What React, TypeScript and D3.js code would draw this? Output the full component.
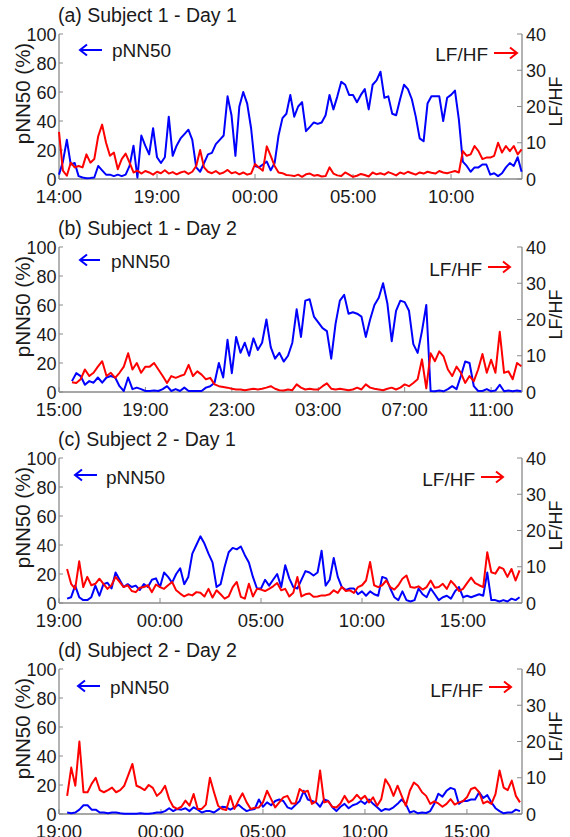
import React from 'react'
import * as d3 from 'd3'

// samples are every 12 minutes (0.2 h), hours counted from the first tick
const STEP = 0.2

const pnnTicks = [0, 20, 40, 60, 80, 100]
const lfTicks = [0, 10, 20, 30, 40]

const aTickLabels = ['14:00', '19:00', '00:00', '05:00', '10:00']
const aTickHours = [0, 5, 10, 15, 20]
const bTickLabels = ['15:00', '19:00', '23:00', '03:00', '07:00', '11:00']
const bTickHours = [0, 4, 8, 12, 16, 20]
const cTickLabels = ['19:00', '00:00', '05:00', '10:00', '15:00']
const cTickHours = [0, 5, 10, 15, 20]
const dTickLabels = ['19:00', '00:00', '05:00', '10:00', '15:00']
const dTickHours = [0, 5, 10, 15, 20]

// (a) Subject 1 - Day 1
const aPnn50 = [
  3, 12, 27, 10, 11, 2, 1, 0.5, 0.7, 1, 9, 6, 3, 3, 2, 3, 2, 3, 9, 23,
  1, 30, 23, 17, 35, 15, 11, 15, 43, 16, 23, 28, 31, 34, 27, 8, 5, 11, 17, 18,
  24, 27, 30, 57, 44, 16, 50, 60, 52, 35, 9, 8, 10, 12, 6, 11, 30, 42, 45, 58,
  43, 50, 53, 33, 36, 39, 38, 39, 44, 58, 48, 57, 67, 65, 58, 58, 53, 58, 62, 48,
  65, 68, 74, 56, 57, 45, 44, 55, 65, 62, 55, 43, 28, 26, 52, 57, 57, 57, 40, 56,
  58, 61, 41, 12, 9, 5, 8, 8, 10, 10, 3, 4, 2, 4, 8, 11, 9, 15, 5,
]
const aLfhf = [
  13, 2.3, 0.9, 4.5, 3.2, 3.6, 3.2, 6.8, 4.5, 5.5, 11.8, 15, 10, 6.4, 7.3, 2.7, 5.5, 7, 4.5, 1.8,
  2.3, 1.5, 2.2, 1.8, 1.2, 2.0, 1.6, 2.4, 1.5, 1.9, 1.3, 1.8, 2.1, 1.4, 2.0, 3.6, 8, 3.2, 2.0, 1.6,
  2.2, 1.4, 1.8, 2.5, 1.6, 1.9, 1.3, 1.8, 1.2, 1.5, 4.1, 3.2, 2.3, 9, 6.4, 3.6, 1.8, 1.6, 1.1, 1.0,
  0.8, 1.2, 0.6, 1.3, 1.5, 0.9, 1.1, 0.7, 0.8, 3.2, 1.5, 1.0, 0.8, 1.8, 1.2, 0.6, 0.9, 1.4, 1.1, 0.7,
  1.8, 1.3, 1.6, 1.2, 1.9, 1.5, 1.0, 1.8, 1.4, 2.0, 1.6, 1.2, 1.8, 1.5, 2.0, 1.7, 1.5, 2.2, 1.8, 1.6,
  1.9, 2.2, 1.8, 7.7, 6.4, 6.8, 9.1, 7.7, 5.5, 5.9, 5.9, 6.4, 10, 7.3, 9.1, 7.7, 9.1, 6.8, 8.2,
]

// (b) Subject 1 - Day 2
const bPnn50 = [
  7.5, 13, 11, 5, 7.5, 6.4, 10, 6.4, 10, 11, 10, 4, 0.7, 10, 2, 3, 2, 0.7, 0.7, 1.1,
  0.7, 2, 4, 0.7, 2, 0.7, 3, 0.7, 0.7, 0.7, 0.7, 3, 4, 6.4, 20, 10, 36, 13, 38, 27,
  34, 25, 37, 29, 34, 50, 31, 23, 27, 21, 25, 34, 57, 38, 63, 64, 52, 48, 44, 42,
  23, 47, 63, 67, 54, 55, 54, 52, 38, 50, 60, 65, 75, 61, 35, 56, 63, 62, 56, 33,
  27, 42, 60, 0.7, 0.5, 1, 0.5, 2, 4, 2, 11, 21, 20, 4, 0.7, 0.7, 2, 0.5, 1, 5,
  0.5, 1, 0.5, 1, 0.5,
]
const bLfhf = [
  2.7, 2.5, 3.5, 6.2, 4.4, 5.3, 7, 8.5, 4.4, 5.3, 3.9, 5.3, 7, 10.7, 6.2, 8, 5.3, 7, 7, 8,
  6.2, 4.4, 2.5, 4.4, 3.9, 4.4, 4.8, 7.5, 4.4, 5.7, 4.8, 3.5, 3.9, 2.1, 1.6, 1.4, 1.2, 0.9, 0.7, 0.7,
  0.5, 0.7, 0.9, 0.7, 0.9, 1.2, 1.6, 0.9, 0.5, 0.4, 0.7, 0.5, 2.1, 1.2, 0.7, 0.9, 0.7, 0.7, 1.6, 2.4,
  0.9, 0.7, 0.9, 0.7, 0.5, 0.7, 1.2, 0.7, 2.1, 1.2, 0.9, 0.7, 0.5, 0.9, 1.2, 0.7, 1.2, 2.1, 1.6, 2.5,
  3.5, 9, 1, 10.7, 8.5, 11.2, 9.8, 6.2, 4.4, 7, 5.3, 2.5, 4.4, 3, 6.2, 10.5, 5.3, 8.9, 5.3, 16.6,
  5.3, 5.7, 3.5, 8, 7.1,
]

// (c) Subject 2 - Day 1
const cPnn50 = [
  3, 4, 12, 4, 2, 2, 4, 12, 5, 13, 14, 10, 21, 16, 11, 13, 11, 12, 9, 13,
  11, 16, 17, 11, 21, 18, 14, 20, 24, 13, 18, 34, 40, 46, 41, 34, 28, 11, 13, 25,
  35, 38, 37, 39, 33, 28, 18, 10, 10, 16, 12, 16, 20, 11, 26, 17, 11, 10, 16, 22,
  21, 19, 21, 36, 12, 16, 31, 18, 11, 9, 10, 10, 6, 8, 5, 8, 6, 5, 18, 17,
  10, 4, 2, 8, 2, 1, 2, 10, 6, 4, 10, 6, 2, 4, 5, 3, 8, 11, 4, 5,
  4, 5, 6, 5, 21, 2, 2, 1, 2, 1, 3, 2, 4,
]
const cLfhf = [
  9.4, 5.3, 3.9, 11.5, 4.4, 7.2, 4.9, 5.3, 6.7, 5.3, 3.9, 4.9, 7.2, 5.8, 4.4, 4.9, 3.3, 3, 4.2, 4.4,
  4.9, 3, 5.1, 4.4, 3.9, 4.9, 5.8, 3.5, 2.6, 1.8, 2.4, 2.1, 3, 2.8, 1.8, 3.9, 1.5, 3.5, 2.4, 1.2,
  1.8, 4.4, 5.8, 1.7, 1.2, 5.3, 1.8, 3.9, 3.7, 3.3, 3.9, 4.6, 5.5, 3.5, 3.9, 1.8, 2.8, 7.2, 1.8, 2.4,
  2.6, 1.7, 1.8, 2.1, 2.1, 2.4, 3.5, 2.8, 4.4, 3.3, 3.5, 2.8, 4.4, 4.9, 6.2, 11.3, 4.9, 4.4, 4.9, 6.2,
  4.4, 3.7, 4.9, 6.7, 7.6, 4.4, 4.2, 4.6, 3.7, 4.4, 6.2, 4.2, 4.4, 5.3, 3.9, 6.1, 4.9, 3.3, 3.9, 5.5,
  7, 5.5, 4.9, 4.4, 14, 8.5, 8.1, 9.9, 9.4, 7.2, 9.4, 6.2, 9,
]

// (d) Subject 2 - Day 2
const dPnn50 = [
  1, 0.5, 1, 3, 6, 6, 3, 3, 1, 1, 0.5, 1, 1, 0.5, 0.2, 0.2, 0.2, 0.2, 0.5, 0.2,
  0.2, 0.5, 1, 1, 2, 4, 2, 3.5, 3, 4, 2, 4.6, 3, 1, 2, 2, 1, 3, 5, 4.6,
  3, 4.6, 6.4, 4, 2, 3, 3.5, 10, 5, 8, 6, 9, 10, 9, 4.6, 3.5, 6.4, 9, 16, 10,
  9, 8, 5, 10, 9, 4.6, 2, 5, 7, 4, 6, 7, 9, 7, 10, 7, 4.6, 2, 3.5, 3,
  4.6, 7, 10, 7, 1, 2, 0.5, 1, 0.7, 2, 7, 14, 12, 16, 18, 17, 7, 9, 9, 10,
  10, 15, 11, 13, 8, 4, 2, 0.5, 1, 1, 3, 2,
]
const dLfhf = [
  5, 12.8, 7.8, 20, 6, 6, 8.3, 10, 6.6, 6, 6.6, 7.3, 6, 6.6, 7.8, 10.8, 13.8, 7.8, 7.3, 6.6,
  8, 7.2, 5, 6, 7.8, 4.1, 2, 1.4, 2, 3.7, 2.3, 5.5, 1.4, 1.4, 2.6, 10, 6, 2.3, 1.4, 1.1,
  5, 1.4, 3.7, 5.7, 3.2, 1.4, 1.7, 1.8, 3.2, 6.4, 4.1, 1.8, 3.2, 4.6, 5, 2.9, 2.9, 6.9, 6, 6.4,
  2.8, 3.5, 12, 3.2, 3.5, 2, 1.8, 2.9, 5, 3.2, 3.9, 5.3, 4.1, 5, 3.2, 4.6, 2.3, 4.1, 9.6, 7.8,
  5, 7.8, 5, 2.3, 6.4, 8.7, 7.8, 6, 5, 2.8, 3.5, 2.9, 2, 2.8, 4.1, 2.6, 3.2, 3.5, 4.6, 6.9,
  7.3, 6, 2.9, 3.5, 2.8, 5.5, 12, 7.3, 6.6, 9.2, 5, 3.2,
]

const X0 = 59
const X1 = 522
const PLOT_H = 145
const AXIS = '#8a8a8a'
const TXT = '#1a1a1a'
const FONT = '"Liberation Sans", Arial, sans-serif'

const panels = [
  {
    title: '(a) Subject 1 - Day 1', top: 34, pnn: aPnn50, lf: aLfhf, start: 0, end: 23.62,
    tickHours: aTickHours, tickLabels: aTickLabels,
    leg: { pa: [80, 102], py: 16, pt: 112, pb: 23, la: [494, 517], ly: 19, lb: 27 },
  },
  {
    title: '(b) Subject 1 - Day 2', top: 247, pnn: bPnn50, lf: bLfhf, start: 0.6, end: 21.43,
    tickHours: bTickHours, tickLabels: bTickLabels,
    leg: { pa: [80, 100], py: 13, pt: 111, pb: 21, la: [488, 510], ly: 20, lb: 29 },
  },
  {
    title: '(c) Subject 2 - Day 1', top: 458, pnn: cPnn50, lf: cLfhf, start: 0.4, end: 22.92,
    tickHours: cTickHours, tickLabels: cTickLabels,
    leg: { pa: [75, 97], py: 17, pt: 106, pb: 26, la: [481, 503], ly: 19, lb: 28 },
  },
  {
    title: '(d) Subject 2 - Day 2', top: 669, pnn: dPnn50, lf: dLfhf, start: 0.4, end: 22.7,
    tickHours: dTickHours, tickLabels: dTickLabels,
    leg: { pa: [78, 100], py: 17, pt: 110, pb: 25, la: [489, 511], ly: 18, lb: 28 },
  },
]

const Arrow = ({ x1, x2, y, color, left }: any) => {
  const tip = left ? x1 : x2
  const back = left ? tip + 7 : tip - 7
  const d = `M${x1},${y}H${x2}M${back},${y - 5.5}L${tip},${y}L${back},${y + 5.5}`
  return <path d={d} fill="none" stroke={color} strokeWidth={2} />
}

const Panel = ({ p }: any) => {
  const bottom = p.top + PLOT_H
  const x = d3.scaleLinear().domain([0, p.end]).range([X0, X1])
  const yL = d3.scaleLinear().domain([0, 100]).range([bottom, p.top])
  const yR = d3.scaleLinear().domain([0, 40]).range([bottom, p.top])
  const hour = (i: number) => p.start + i * STEP
  const bluePath = d3.line<number>().x((_, i) => x(hour(i))).y((d) => yL(d))(p.pnn) || ''
  const redPath = d3.line<number>().x((_, i) => x(hour(i))).y((d) => yR(d))(p.lf) || ''
  const L = p.leg
  return (
    <g fontFamily={FONT} fill={TXT}>
      <text x={58} y={p.top - 12} fontSize={19.5}>{p.title}</text>
      {/* axes */}
      <line x1={X0} x2={X0} y1={p.top} y2={bottom} stroke={AXIS} strokeWidth={1.3} />
      <line x1={X1} x2={X1} y1={p.top} y2={bottom} stroke={AXIS} strokeWidth={1.3} />
      <line x1={X0} x2={X1} y1={bottom} y2={bottom} stroke={AXIS} strokeWidth={1.3} />
      {pnnTicks.map((t) => (
        <g key={'l' + t}>
          <line x1={X0} x2={X0 + 4} y1={yL(t)} y2={yL(t)} stroke={AXIS} />
          <text x={56.5} y={yL(t) + 6.5} fontSize={18} textAnchor="end">{t}</text>
        </g>
      ))}
      {lfTicks.map((t) => (
        <g key={'r' + t}>
          <line x1={X1 - 5} x2={X1} y1={yR(t)} y2={yR(t)} stroke={AXIS} />
          <text x={526} y={yR(t) + 6.5} fontSize={18}>{t}</text>
        </g>
      ))}
      {p.tickHours.map((h: number, i: number) => (
        <g key={'x' + h}>
          <line x1={x(h)} x2={x(h)} y1={bottom} y2={bottom - 5} stroke={AXIS} />
          <text x={x(h)} y={bottom + 24} fontSize={18.5} textAnchor="middle">{p.tickLabels[i]}</text>
        </g>
      ))}
      <text transform={`translate(30,${p.top + 59.5}) rotate(-90)`} fontSize={20.5} textAnchor="middle">pNN50 (%)</text>
      <text transform={`translate(561.5,${p.top + 67.5}) rotate(-90)`} fontSize={18} textAnchor="middle">LF/HF</text>
      {/* data */}
      <path d={bluePath} fill="none" stroke="#0000ff" strokeWidth={2} strokeLinejoin="round" />
      <path d={redPath} fill="none" stroke="#ff0000" strokeWidth={2} strokeLinejoin="round" />
      {/* in-plot legends */}
      <Arrow x1={L.pa[0]} x2={L.pa[1]} y={p.top + L.py} color="#0000ff" left />
      <text x={L.pt} y={p.top + L.pb} fontSize={19}>pNN50</text>
      <text x={L.la[0] - 6} y={p.top + L.lb} fontSize={19} textAnchor="end">LF/HF</text>
      <Arrow x1={L.la[0]} x2={L.la[1]} y={p.top + L.ly} color="#ff0000" />
    </g>
  )
}

export default function App() {
  return (
    <svg width={570} height={837} style={{ position: 'absolute', left: 0, top: 0, background: '#fff' }}>
      <rect width={570} height={837} fill="#fff" />
      {panels.map((p) => <Panel key={p.title} p={p} />)}
    </svg>
  )
}
